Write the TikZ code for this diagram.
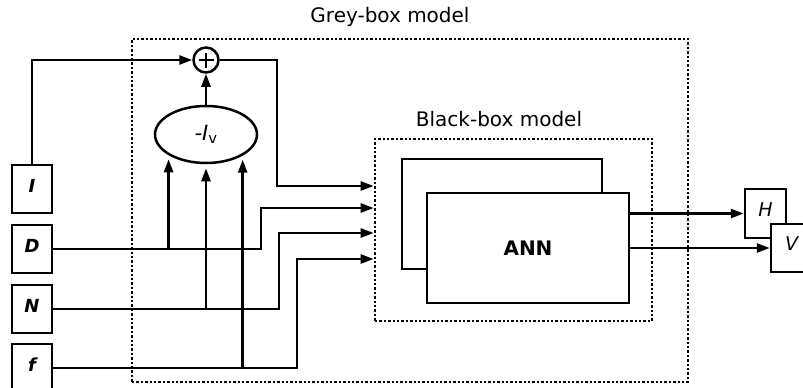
\documentclass[tikz,border=0pt]{standalone}
\usepackage{fontspec}
\setmainfont{DejaVu Sans}
\usetikzlibrary{shapes.geometric,arrows.meta,calc}
\begin{document}
\begin{tikzpicture}[x=1pt,y=-1pt,
  line width=2.5pt,
  arr/.style={-{Triangle[length=13pt,width=9pt]}},
  inbox/.style={draw, fill=white, minimum width=40pt, minimum height=48pt, inner sep=0pt,
    font=\fontsize{18}{18}\selectfont\bfseries\itshape, text height=13pt, text depth=6pt},
  outbox/.style={draw, fill=white, minimum width=41pt, minimum height=48pt, inner sep=0pt,
    font=\fontsize{19}{19}\selectfont\itshape, text height=13pt, text depth=8pt},
  dotbox/.style={draw, dash pattern=on 2.4pt off 2pt, line width=2.6pt, inner sep=0pt},
  lbl/.style={font=\fontsize{20}{20}\selectfont, anchor=base, inner sep=0pt},
  annbox/.style={draw, fill=white, minimum height=110pt, inner sep=0pt},
]
\useasboundingbox (0,0) rectangle (803,388);

% dotted frames
\node[dotbox, minimum width=556pt, minimum height=343pt] (grey) at (410,210.5) {};
\node[dotbox, minimum width=277pt, minimum height=182pt] (bb) at (513.5,230) {};
\node[lbl] (greylbl) at (390,23) {Grey-box model};
\node[lbl] (bblbl) at (499,126) {Black-box model};

% ANN boxes
\node[annbox, minimum width=200pt] (ann2) at (502,214) {};
\node[annbox, minimum width=202pt, font=\fontsize{20}{20}\selectfont\bfseries] (ann) at (528,248) {ANN};

% inputs
\node[inbox] (I) at (32,189) {I};
\node[inbox] (D) at (32,249) {D};
\node[inbox] (N) at (32,309) {N};
\node[inbox] (f) at (32,368) {f};

% outputs
\node[outbox, minimum height=49pt] (H) at (765.5,213.5) {H};
\node[outbox] (V) at (791.5,248) {V};

% sum and ellipse
\node[draw, circle, minimum size=25pt, inner sep=0pt] (plus) at (206,60) {};
\draw[line width=1.6pt] ($(plus.center)+(-7.5,0)$) -- ($(plus.center)+(7.5,0)$);
\draw[line width=1.6pt] ($(plus.center)+(0,-7.5)$) -- ($(plus.center)+(0,7.5)$);
\node[draw, ellipse, minimum width=102pt, minimum height=57pt, inner sep=0pt,
  font=\fontsize{21}{21}\selectfont] (ell) at (206,134.5) {{\itshape -I}\textsubscript{v}};

% input points on black box
\coordinate (in1) at (bb.west |- 0,186);
\coordinate (in2) at (bb.west |- 0,208);
\coordinate (in3) at (bb.west |- 0,233);
\coordinate (in4) at (bb.west |- 0,259);

% connectors
\draw[arr] (I.north) |- (plus.west);
\draw[arr] (ell.north) -- (plus.south);
\draw[arr] (plus.east) -- (277,60) -- (277,186) -- (in1);
\draw[arr] (D.east) -- (261,249) -- (261,208) -- (in2);
\draw[arr] (N.east) -- (279,309) -- (279,233) -- (in3);
\draw[arr] (f.east) -- (297,368) -- (297,259) -- (in4);

\draw[arr, shorten >=4pt] (ell.209.25 |- D.east) -- (ell.209.25);
\draw[arr, shorten >=4pt] (ell.south |- N.east) -- (ell.south);
\draw[arr, shorten >=4pt] (ell.330.7 |- f.east) -- (ell.330.7);

\draw[arr] (ann.east |- H.west) -- (H.west);
\draw[arr] (ann.east |- V.west) -- (V.west);
\end{tikzpicture}
\end{document}
